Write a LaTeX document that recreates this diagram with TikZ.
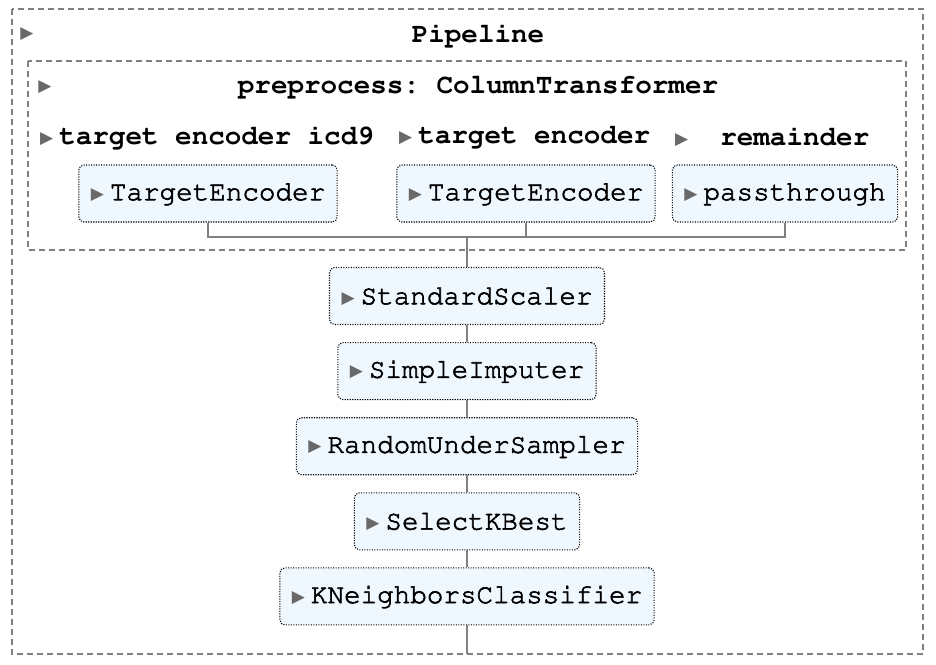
\documentclass[tikz,border=0pt]{standalone}
\usepackage[T1]{fontenc}
\usepackage{fontspec}
\newfontfamily\symfont{DejaVu Sans}
\usepackage{xcolor}
\usepackage{tikz}
\usetikzlibrary{positioning}

\definecolor{boxfill}{HTML}{F0F8FF}
\definecolor{linegray}{HTML}{808080}
\definecolor{trigray}{HTML}{696969}
\frenchspacing
\newcommand{\cour}{\fontencoding{T1}\fontfamily{pcr}\fontsize{27.6}{30}\selectfont}
\newcommand{\tri}{\raisebox{1pt}{\symfont\fontsize{17}{17}\selectfont\color{trigray}▶}}
% Courier etwas kraeftiger
\newcommand{\heavy}[1]{\special{pdf:literal direct 2 Tr 0.6 w}#1\special{pdf:literal direct 0 Tr}}

\tikzset{
    est/.style={draw=black, line width=1.1pt, dash pattern=on 1.1pt off 1.4pt, fill=boxfill,
                rounded corners=5pt, minimum height=57pt, inner xsep=12pt, font=\cour},
    lbl/.style={font=\cour\bfseries, inner sep=0pt},
    grp/.style={draw=linegray, line width=1.3pt, dash pattern=on 6pt off 4pt},
    conn/.style={draw=linegray, line width=2pt}
}

\begin{document}
\begin{tikzpicture}[x=1pt, y=-1pt, node distance=17pt]
    \useasboundingbox (0,0) rectangle (936,664);

    % Gruppen (gestrichelt)
    \draw[grp] (12,9) rectangle (923,654);
    \draw[grp] (28,61) rectangle (906,250);

    % Titel
    \node[inner sep=0pt] (triPipe) at (27,34) {\tri};
    \node[lbl] (pipe) at (478,35) {Pipeline};
    \node[inner sep=0pt] (triPre) at (45,87) {\tri};
    \node[lbl] (preproc) at (478,87) {preprocess: ColumnTransformer};

    % Spalten des ColumnTransformer
    \node[lbl, anchor=west] (lblIcd) at (40,137) {\tri\hspace{6pt}target encoder icd9};
    \node[lbl, anchor=west] (lblTe) at (399,137) {\tri\hspace{6pt}target encoder};
    \node[lbl, anchor=west] (lblRem) at (675,137) {\tri\hspace{32pt}remainder};

    \node[est] (teIcd) at (208,193.5) {\tri\hspace{6pt}\heavy{TargetEncoder}};
    \node[est] (te) at (526,193.5) {\tri\hspace{6pt}\heavy{TargetEncoder}};
    \node[est] (pass) at (785,193.5) {\tri\hspace{6pt}\heavy{passthrough}};

    % Schritte der Pipeline
    \node[est] (scaler) at (467,296) {\tri\hspace{6pt}\heavy{StandardScaler}};
    \node[est, below=of scaler] (imputer) {\tri\hspace{6pt}\heavy{SimpleImputer}};
    \node[est, below=of imputer] (sampler) {\tri\hspace{6pt}\heavy{RandomUnderSampler}};
    \node[est, below=of sampler] (kbest) {\tri\hspace{6pt}\heavy{SelectKBest}};
    \node[est, below=of kbest] (knn) {\tri\hspace{6pt}\heavy{KNeighborsClassifier}};

    % Verbindungslinien
    \coordinate (join) at (467,237);
    \coordinate (pipeEnd) at (467,654);
    \draw[conn] (teIcd.south) -- (teIcd.south |- join) -- (pass.south |- join) -- (pass.south);
    \draw[conn] (te.south) -- (te.south |- join);
    \draw[conn] (join) -- (scaler.north);
    \foreach \source/\dest in {scaler/imputer, imputer/sampler, sampler/kbest, kbest/knn} {
        \draw[conn] (\source.south) -- (\dest.north);
    }
    \draw[conn] (knn.south) -- (pipeEnd);
\end{tikzpicture}
\end{document}
